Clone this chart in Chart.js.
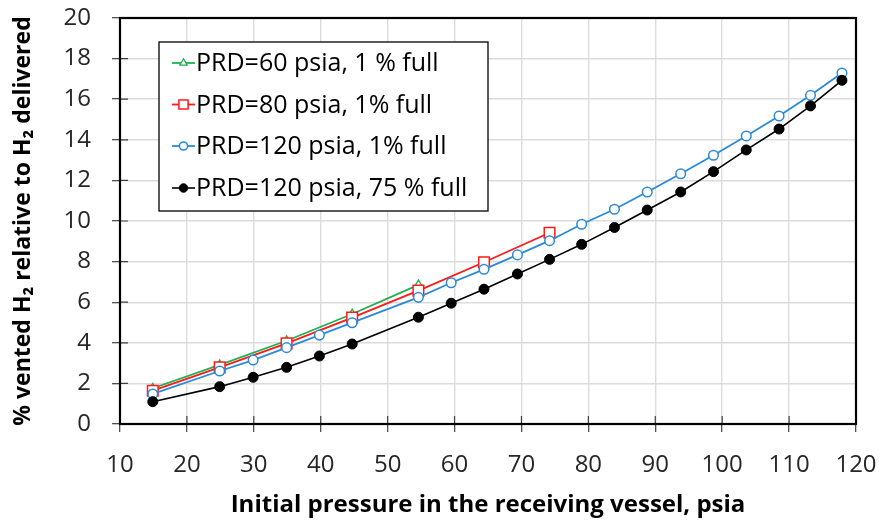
<!DOCTYPE html>
<html>
<head>
<meta charset="utf-8">
<script src="https://cdn.jsdelivr.net/npm/chart.js@4/dist/chart.umd.min.js"></script>
<style>
html,body{margin:0;padding:0;background:#fff;}
#wrap{width:885px;height:520px;}
</style>
</head>
<body>
<div id="wrap"><canvas id="c" width="885" height="520"></canvas></div>
<script>
const pressure = [14.9, 24.9, 29.9, 34.9, 39.8, 44.7, 54.6, 59.5, 64.4, 69.4, 74.2, 79.0, 83.9, 88.8, 93.8, 98.7, 103.6, 108.5, 113.2, 117.9];
const pressureGreen = [14.9, 24.9, 34.9, 44.7, 54.6];
const ventPRD60 = [1.76, 2.91, 4.10, 5.42, 6.85];
const pressureRed = [14.9, 24.9, 34.9, 44.7, 54.6, 64.4, 74.2];
const ventPRD80 = [1.64, 2.79, 3.97, 5.24, 6.57, 7.97, 9.42];
const ventPRD120 = [1.48, 2.61, 3.15, 3.76, 4.38, 4.99, 6.24, 6.96, 7.62, 8.33, 9.03, 9.84, 10.58, 11.43, 12.33, 13.24, 14.19, 15.17, 16.19, 17.29];
const ventPRD120full = [1.10, 1.84, 2.30, 2.79, 3.35, 3.94, 5.26, 5.95, 6.64, 7.39, 8.11, 8.85, 9.68, 10.54, 11.43, 12.43, 13.50, 14.53, 15.67, 16.93];
const seriesLabels = ['PRD=60 psia, 1 % full', 'PRD=80 psia, 1% full', 'PRD=120 psia, 1% full', 'PRD=120 psia, 75 % full'];
const xTitle = 'Initial pressure in the receiving vessel, psia';
const yTitle = '% vented H\u2082 relative to H\u2082 delivered';

const pts = (xs, ys) => xs.map((x, i) => ({x: x, y: ys[i]}));
const FONT = 'Open Sans';

const datasets = [
  {label: seriesLabels[0], data: pts(pressureGreen, ventPRD60), borderColor: '#1fb04f', backgroundColor: '#ffffff',
   pointStyle: 'triangle', pointRadius: 5, pointBorderWidth: 1.3, borderWidth: 1.8, order: 4},
  {label: seriesLabels[1], data: pts(pressureRed, ventPRD80), borderColor: '#ff1a1a', backgroundColor: '#ffffff',
   pointStyle: 'rect', pointRadius: 7.5, pointBorderWidth: 1.5, borderWidth: 1.8, order: 3},
  {label: seriesLabels[2], data: pts(pressure, ventPRD120), borderColor: '#2b8ad8', backgroundColor: '#ffffff',
   pointStyle: 'circle', pointRadius: 4.8, pointBorderWidth: 1.5, borderWidth: 1.8, order: 2},
  {label: seriesLabels[3], data: pts(pressure, ventPRD120full), borderColor: '#000000', backgroundColor: '#000000',
   pointStyle: 'circle', pointRadius: 5, pointBorderWidth: 1, borderWidth: 1.6, order: 1}
];
datasets.forEach(d => { d.tension = 0; d.fill = false; d.pointBackgroundColor = d.backgroundColor; d.pointBorderColor = d.borderColor; });

function drawMarker(ctx, ds, x, y) {
  ctx.save();
  ctx.lineWidth = ds.pointBorderWidth;
  ctx.strokeStyle = ds.borderColor;
  ctx.fillStyle = ds.pointBackgroundColor;
  const r = ds.pointRadius;
  ctx.beginPath();
  if (ds.pointStyle === 'circle') {
    ctx.arc(x, y, r, 0, Math.PI * 2);
  } else if (ds.pointStyle === 'rect') {
    const s = Math.SQRT1_2 * r;
    ctx.rect(x - s, y - s, 2 * s, 2 * s);
  } else if (ds.pointStyle === 'triangle') {
    ctx.moveTo(x, y - r);
    ctx.lineTo(x + r * Math.sin(Math.PI / 3), y + r * 0.5);
    ctx.lineTo(x - r * Math.sin(Math.PI / 3), y + r * 0.5);
    ctx.closePath();
  }
  ctx.fill();
  ctx.stroke();
  ctx.restore();
}

const extras = {
  id: 'extras',
  beforeDatasetsDraw(chart) {
    const ctx = chart.ctx;
    const xs = chart.scales.x, ys = chart.scales.y;
    const a = chart.chartArea;
    ctx.save();
    ctx.strokeStyle = '#404040';
    ctx.lineWidth = 1.2;
    ctx.beginPath();
    xs.ticks.forEach(t => {
      const px = xs.getPixelForValue(t.value);
      ctx.moveTo(px, a.bottom);
      ctx.lineTo(px, a.bottom - 8);
    });
    ys.ticks.forEach(t => {
      const py = ys.getPixelForValue(t.value);
      ctx.moveTo(a.left, py);
      ctx.lineTo(a.left + 8, py);
    });
    ctx.stroke();
    ctx.strokeStyle = '#000';
    ctx.lineWidth = 2.2;
    ctx.strokeRect(a.left, a.top, a.right - a.left, a.bottom - a.top);
    ctx.restore();
  },
  afterDraw(chart) {
    const ctx = chart.ctx;
    const bx = 159, by = 42, bw = 329, bh = 169;
    ctx.save();
    ctx.fillStyle = '#fff';
    ctx.fillRect(bx, by, bw, bh);
    ctx.strokeStyle = '#000';
    ctx.lineWidth = 1.3;
    ctx.strokeRect(bx, by, bw, bh);
    ctx.font = '25px "' + FONT + '"';
    ctx.textBaseline = 'middle';
    const rowY = [63, 104.5, 146, 188];
    chart.data.datasets.forEach((ds, i) => {
      const y = rowY[i];
      ctx.strokeStyle = ds.borderColor;
      ctx.lineWidth = ds.borderWidth;
      ctx.beginPath();
      ctx.moveTo(172, y);
      ctx.lineTo(195, y);
      ctx.stroke();
      const legendMarker = Object.assign({}, ds, {pointRadius: ds.pointStyle === 'rect' ? 6.5 : ds.pointRadius * 0.85});
      drawMarker(ctx, legendMarker, 183.5, y);
      ctx.fillStyle = '#000';
      ctx.fillText(ds.label, 196, y + 1);
    });
    ctx.restore();
  }
};

new Chart(document.getElementById('c'), {
  type: 'line',
  data: {datasets: datasets},
  plugins: [extras],
  options: {
    responsive: false,
    animation: false,
    devicePixelRatio: 1,
    layout: {padding: {left: 0, right: 29, top: 18, bottom: 0}},
    plugins: {legend: {display: false}, tooltip: {enabled: false}},
    scales: {
      x: {
        type: 'linear', min: 10, max: 120,
        ticks: {stepSize: 10, color: '#262626', font: {family: FONT, size: 24}, padding: 19, maxRotation: 0},
        grid: {color: '#dcdcdc', lineWidth: 1.4, tickLength: 8, tickColor: '#404040', tickWidth: 1.2},
        border: {display: false},
        title: {display: true, text: xTitle, color: '#000', font: {family: FONT, size: 24, weight: 'bold'}, padding: {top: 7, bottom: 0}},
        afterFit(s) { s.height = 96; s.paddingLeft = 0; s.paddingRight = 0; }
      },
      y: {
        type: 'linear', min: 0, max: 20,
        ticks: {stepSize: 2, color: '#262626', font: {family: FONT, size: 24}, padding: 21},
        grid: {color: '#dcdcdc', lineWidth: 1.4, tickLength: 8, tickColor: '#404040', tickWidth: 1.2},
        border: {display: false},
        title: {display: true, text: yTitle, color: '#000', font: {family: FONT, size: 23, weight: 'bold'}, padding: {top: 10, bottom: 0}},
        afterFit(s) { s.width = 120; s.paddingTop = 0; s.paddingBottom = 0; }
      }
    }
  }
});
</script>
</body>
</html>
